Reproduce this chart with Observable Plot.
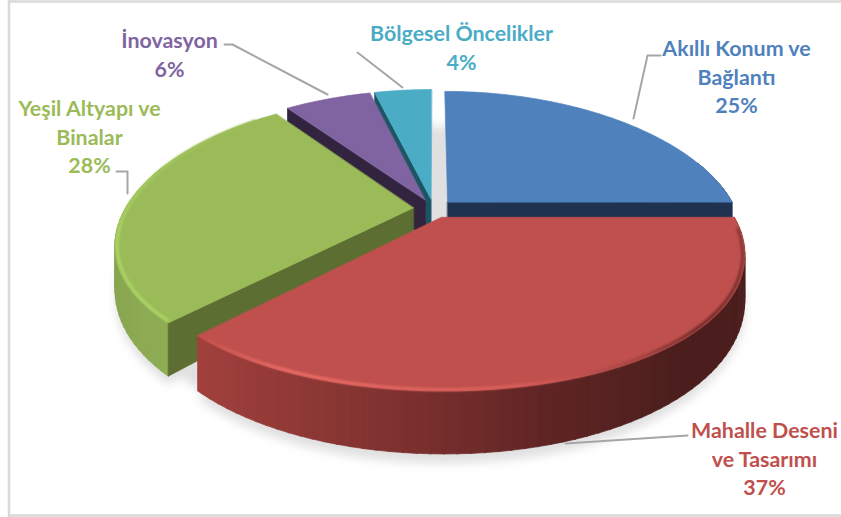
<!DOCTYPE html>
<html><head><meta charset="utf-8">
<style>html,body{margin:0;padding:0;background:#fff}svg{display:block}</style>
<script src="https://cdn.jsdelivr.net/npm/d3@7"></script>
<script src="https://cdn.jsdelivr.net/npm/@observablehq/plot@0.6"></script>
</head><body><script>
// Data, clockwise from 12 o'clock
const names = ["Akıllı Konum ve\nBağlantı","Mahalle Deseni\nve Tasarımı","Yeşil Altyapı ve\nBinalar","İnovasyon","Bölgesel Öncelikler"];
const shares = [25,37,28,6,4];
const topColors = ["#4f81bd","#c0504d","#9bbb59","#8064a2","#4bacc6"];
const faceColors = ["#1f3350","#4a1d1c","#5c6e31","#32243f","#1e5564"];
const paintOrder = [4,3,2,0,1];

// Label anchors and leader paths (chart units = pixels)
const labelX = [736,764,89,169,461];
const labelY = [75,457,135,53,46];
const leaders = [
  [[660,55],[647,55],[633,118]],
  [[687,435],[565,443]],
  [[116,171],[127,171],[127,193]],
  [[224,44],[232,44],[327,94]],
  [[357,52],[402,87]]
];

// 3D view
const cx=433, cy=208, R=288, tilt=0.4688, perspX=0.25, perspY=0.2, depth=39, explode=0.07;
const rad = d=>d*Math.PI/180;
function project(u,v,drop=0){
  const wx=1/(1-perspX*v), wy=1/(1-perspY*v);
  return {x:cx+R*u*wx, y:cy+R*tilt*v*wy+drop*depth*wy*wy};
}
const total=d3.sum(shares);
let acc=0;
const slices=shares.map((s,i)=>{
  const a0=acc/total*360; acc+=s; const a1=acc/total*360; const m=rad((a0+a1)/2);
  return {i,a0,a1,ox:explode*Math.sin(m),oy:-explode*Math.cos(m)};
});
const rim=(s,t,r=1)=>({u:s.ox+r*Math.sin(rad(t)),v:s.oy-r*Math.cos(rad(t))});
const angles=(a,b,n)=>d3.range(n+1).map(j=>a+(b-a)*j/n);

function outline(s,drop){
  const n=Math.max(8,Math.round(s.a1-s.a0));
  const pts=[project(s.ox,s.oy,drop)];
  for(const t of angles(s.a0,s.a1,n)){const p=rim(s,t);pts.push(project(p.u,p.v,drop));}
  return pts;
}

const redWall=d3.scaleLinear().domain([223,205,185,165,140,90]).range(["#a2403d","#923a37","#7c302e","#5f2524","#4b1e1d","#4a1d1c"]);
const greenWall=d3.scaleLinear().domain([223,250,285]).range(["#8fae54","#86a44e","#8aa850"]);
const plainWall=i=>d3.color(topColors[i]).darker(1.2).formatHex();
const wallColor=(i,t)=> i===1?redWall(t): i===2?greenWall(t): plainWall(i);

const shadow=[], faces=[], walls=[], tops=[], glow=[];
// floor shadow: whole disc plus each exploded footprint
const disc={ox:0,oy:0,a0:0,a1:360};
outline(disc,1.15).slice(1).forEach(p=>shadow.push({...p,z:"disc"}));
slices.forEach(s=>outline(s,1.15).forEach(p=>shadow.push({...p,z:s.i})));

for(const idx of paintOrder){
  const s=slices[idx], key=`s${idx}`;
  for(let t=s.a0;t<s.a1;t+=2){
    const e=Math.min(t+2.2,s.a1), a=rim(s,t), b=rim(s,e);
    if((a.v+b.v)/2<-0.35) continue;
    const c=wallColor(idx,t+1), z=`${key}w${t}`;
    walls.push({...project(a.u,a.v,0),z,c,o:idx},{...project(b.u,b.v,0),z,c,o:idx},{...project(b.u,b.v,1),z,c,o:idx},{...project(a.u,a.v,1),z,c,o:idx});
  }
  const c=faceColors[idx];
  [[s.a0,-1],[s.a1,1]].forEach(([t,sgn],k)=>{
    if(sgn*Math.sin(rad(t))>0) {
      const a=rim(s,t), z=`${key}f${k}`;
      faces.push({...project(s.ox,s.oy,0),z,c,o:idx},{...project(a.u,a.v,0),z,c,o:idx},{...project(a.u,a.v,1),z,c,o:idx},{...project(s.ox,s.oy,1),z,c,o:idx});
    }
  });
  outline(s,0).forEach(p=>tops.push({...p,z:key,c:topColors[idx],o:idx}));
}
// bevel along the rim of the two large front slices
const hiRed=d3.scaleLinear().domain([223,205,170,150,135,92]).range(["#c0504d","#ee6d68","#d8605c","#a84543","#6d2a29","#8f3a38"]).clamp(true);
const hiGreen=d3.scaleLinear().domain([225,255,285,320]).range(["#abd565","#abd565","#a3c75e","#9bbb59"]).clamp(true);
const addGlow=(idx,fn,a,b)=>{
  const s=slices[idx];
  angles(a,b,Math.round(Math.abs(b-a))).forEach(t=>{const p=rim(s,t,0.993);glow.push({...project(p.u,p.v,0),z:idx,c:fn(t)});});
};
addGlow(1,hiRed,222,95);
addGlow(2,hiGreen,224,318);

const xy={x:"x",y:"y"};
const drawLayer=(rows,idx)=>[
  Plot.line(rows.filter(r=>r.o===idx),{...xy,z:"z",fill:"c",stroke:"c",strokeWidth:0.7,curve:"linear-closed"})
];
const sliceMarks=paintOrder.flatMap(idx=>[
  ...drawLayer(walls,idx),
  ...drawLayer(faces,idx),
  ...drawLayer(tops,idx)
]);

const leaderRows=leaders.flatMap((l,i)=>l.map(([x,y])=>({x,y,z:i})));
const labels=names.map((n,i)=>({x:labelX[i],y:labelY[i],t:`${n}\n${shares[i]}%`,c:topColors[i]}));

const chart=Plot.plot({
  width:841,height:517,margin:0,
  x:{domain:[0,841],range:[0,841],axis:null},
  y:{domain:[0,517],range:[0,517],axis:null},
  color:{type:"identity"},
  marks:[
    Plot.ruleX([8.5],{stroke:"#d9d9d9",strokeWidth:2.5}),
    Plot.ruleY([1,515],{stroke:"#d9d9d9",strokeWidth:2.5,x1:8,x2:841}),
    Plot.line(shadow,{...xy,z:"z",fill:"#e0e0e0",stroke:"none",curve:"linear-closed",imageFilter:"blur(5px)"}),
    ...sliceMarks,
    Plot.line(glow,{...xy,z:"z",stroke:"c",strokeWidth:3,imageFilter:"blur(1px)"}),
    Plot.line(leaderRows,{...xy,z:"z",stroke:"#a6a6a6",strokeWidth:2}),
    Plot.text(labels,{x:"x",y:"y",text:"t",fill:"c",fontFamily:"Lato",fontWeight:700,fontSize:21.4,lineHeight:1.34,textAnchor:"middle"})
  ]
});
document.body.appendChild(chart);
</script></body></html>
